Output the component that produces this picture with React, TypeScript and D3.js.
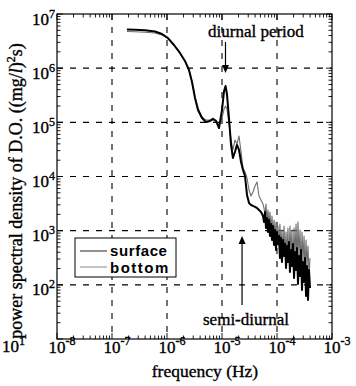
import React from "react";
import * as d3 from "d3";

// ---------- data ----------
const frequency = [
  1.87e-7, 2.62e-7, 3.98e-7, 6.05e-7, 8.11e-7, 1.04e-6, 1.34e-6, 1.72e-6, 2.12e-6, 2.51e-6,
  2.85e-6, 3.23e-6, 3.66e-6, 4.33e-6, 5.12e-6, 6.05e-6, 6.86e-6, 7.78e-6, 8.82e-6, 1.0e-5,
  1.09e-5, 1.16e-5, 1.23e-5, 1.34e-5, 1.46e-5, 1.58e-5, 1.72e-5, 1.87e-5, 2.04e-5, 2.22e-5,
  2.41e-5, 2.62e-5, 2.85e-5, 3.1e-5, 3.37e-5, 3.66e-5, 3.98e-5, 4.33e-5, 4.71e-5, 5.12e-5,
  5.56e-5,
  5.8e-5, 6.05e-5, 6.31e-5, 6.58e-5, 6.86e-5, 7.15e-5, 7.46e-5, 7.78e-5, 8.11e-5, 8.46e-5,
  8.82e-5, 9.2e-5, 9.59e-5, 1.0e-4, 1.04e-4, 1.09e-4, 1.13e-4, 1.18e-4, 1.23e-4, 1.29e-4,
  1.34e-4, 1.4e-4, 1.46e-4, 1.52e-4, 1.58e-4, 1.65e-4, 1.72e-4, 1.8e-4, 1.87e-4, 1.95e-4,
  2.04e-4, 2.12e-4, 2.22e-4, 2.31e-4, 2.41e-4, 2.51e-4, 2.62e-4, 2.73e-4, 2.85e-4, 2.97e-4,
  3.1e-4, 3.23e-4, 3.37e-4, 3.51e-4, 3.66e-4, 3.82e-4, 3.98e-4,
];

const surface = [
  5.18e6, 5.11e6, 5.0e6, 4.75e6, 4.27e6, 3.6e6, 2.68e6, 1.91e6, 1.36e6, 9.25e5,
  5.56e5, 2.81e5, 1.69e5, 1.2e5, 1.01e5, 1.06e5, 1.15e5, 1.06e5, 7.86e4, 1.69e5,
  3.79e5, 4.69e5, 3.34e5, 1.2e5, 3.82e4, 2.2e4, 2.84e4, 3.82e4, 3.09e4, 1.85e4,
  1.32e4, 1.02e4, 4.56e3, 3.24e3, 2.98e3, 2.86e3, 2.74e3, 2.62e3, 2.41e3, 2.21e3,
  1.87e3,
  1.45e3, 2.21e3, 1.12e3, 1.71e3, 9.45e2, 1.57e3, 7.98e2, 1.33e3, 6.73e2, 1.22e3,
  5.44e2, 1.03e3, 4.4e2, 9.45e2, 5.68e2, 7.98e2, 3.13e2, 7.33e2, 2.64e2, 6.73e2,
  3.41e2, 5.68e2, 2.05e2, 5.21e2, 2.64e2, 6.18e2, 1.73e2, 4.4e2, 2.23e2, 5.68e2,
  1.34e2, 4.04e2, 1.88e2, 4.79e2, 1.04e2, 3.41e2, 1.46e2, 4.4e2, 80.4, 2.64e2,
  1.13e2, 3.13e2, 62.2, 2.23e2, 52.5, 1.88e2, 87.5,
];

const bottom = [
  4.75e6, 4.69e6, 4.61e6, 4.46e6, 4.1e6, 3.53e6, 2.68e6, 1.91e6, 1.36e6, 9.25e5,
  5.56e5, 2.94e5, 1.84e5, 1.26e5, 1.1e5, 1.1e5, 1.2e5, 1.06e5, 8.56e4, 1.2e5,
  1.76e5, 2.0e5, 1.76e5, 9.31e4, 4.72e4, 3.09e4, 4.72e4, 3.98e4, 5.6e4, 2.84e4,
  1.44e4, 1.21e4, 9.39e3, 5.64e3, 4.37e3, 5.18e3, 6.68e3, 7.92e3, 4.37e3, 3.68e3,
  3.11e3,
  2.62e3, 1.95e3, 3.11e3, 1.57e3, 2.41e3, 1.27e3, 2.21e3, 1.03e3, 1.87e3, 8.69e2,
  1.57e3, 7.33e2, 1.45e3, 6.18e2, 1.22e3, 5.21e2, 1.33e3, 4.79e2, 1.03e3, 4.04e2,
  1.22e3, 3.41e2, 9.45e2, 3.13e2, 1.12e3, 2.64e2, 1.22e3, 3.71e2, 1.03e3, 2.23e2,
  1.12e3, 3.13e2, 1.33e3, 2.43e2, 1.45e3, 3.41e2, 1.03e3, 2.05e2, 9.45e2, 2.64e2,
  7.98e2, 1.73e2, 6.73e2, 2.23e2, 5.21e2, 1.46e2, 3.13e2,
];

const xTickExponents = [-8, -7, -6, -5, -4, -3];
const yTickExponents = [1, 2, 3, 4, 5, 6, 7];
const seriesNames = ["surface", "bottom"];
const annotationFreqs = [1 / 86400, 2 / 86400]; // diurnal, semi-diurnal
const annotationLabels = ["diurnal period", "semi-diurnal"];

// ---------- layout ----------
const W = 356;
const H = 386;
const L = 57, R = 332, T = 14, B = 339;
const serif = "'Liberation Serif', 'Times New Roman', serif";
const sans = "'Liberation Sans', Arial, sans-serif";
const heavy = { stroke: "#000", strokeWidth: 0.35 };

export default function App() {
  const x = d3.scaleLog().domain([1e-8, 1e-3]).range([L, R]);
  const y = d3.scaleLog().domain([1e1, 1e7]).range([B, T]);

  const line = d3
    .line<number>()
    .x((_, i) => x(frequency[i]))
    .y((d) => y(d));

  const xMinor = x.ticks();
  const yMinor = y.ticks();

  const isMajor = (v: number) => Math.abs(Math.log10(v) - Math.round(Math.log10(v))) < 1e-6;

  const xGrid = xTickExponents.slice(1, -1).map((e) => Math.pow(10, e));
  const yGrid = yTickExponents.slice(1, -1).map((e) => Math.pow(10, e));

  const dx = x(annotationFreqs[0]);
  const sx = x(annotationFreqs[1]);

  return (
    <svg
      width={W}
      height={H}
      style={{ position: "absolute", left: 0, top: 0, background: "#fff" }}
    >
      <rect x={0} y={0} width={W} height={H} fill="#fff" />

      {/* grid */}
      <g stroke="#000" strokeWidth={1.1} strokeDasharray="6,7">
        {xGrid.map((v) => (
          <line key={"gx" + v} x1={x(v)} x2={x(v)} y1={T} y2={B} />
        ))}
        {yGrid.map((v) => (
          <line key={"gy" + v} x1={L} x2={R} y1={y(v)} y2={y(v)} />
        ))}
      </g>

      {/* ticks on all four sides */}
      <g stroke="#000" strokeWidth={0.9}>
        {xMinor.map((v, i) => {
          const len = isMajor(v) ? 6 : 3.5;
          return (
            <g key={"xt" + i}>
              <line x1={x(v)} x2={x(v)} y1={B} y2={B - len} />
              <line x1={x(v)} x2={x(v)} y1={T} y2={T + len} />
            </g>
          );
        })}
        {yMinor.map((v, i) => {
          const len = isMajor(v) ? 6 : 3.5;
          return (
            <g key={"yt" + i}>
              <line x1={L} x2={L + len} y1={y(v)} y2={y(v)} />
              <line x1={R} x2={R - len} y1={y(v)} y2={y(v)} />
            </g>
          );
        })}
      </g>

      {/* series */}
      <path d={line(bottom) || ""} fill="none" stroke="#6e6e6e" strokeWidth={1.1} strokeLinejoin="round" />
      <path d={line(surface) || ""} fill="none" stroke="#000" strokeWidth={2} strokeLinejoin="round" />

      {/* frame */}
      <rect x={L} y={T} width={R - L} height={B - T} fill="none" stroke="#000" strokeWidth={1.2} />

      {/* y tick labels */}
      <g fontFamily={serif} fontSize={17} fill="#000" {...heavy}>
        {yTickExponents.map((e) =>
          e === 1 ? (
            <text key={"yl" + e} x={25} y={352} textAnchor="end">
              10<tspan dy={-7} fontSize={12}>{e}</tspan>
            </text>
          ) : (
            <text key={"yl" + e} x={55} y={y(Math.pow(10, e)) + 10.5} textAnchor="end">
              10<tspan dy={-7} fontSize={12}>{e}</tspan>
            </text>
          )
        )}
      </g>

      {/* x tick labels */}
      <g fontFamily={serif} fontSize={17} fill="#000" {...heavy}>
        {xTickExponents.map((e) => (
          <text key={"xl" + e} x={x(Math.pow(10, e)) - 8.5} y={353}>
            10<tspan dy={-8} fontSize={12}>{e}</tspan>
          </text>
        ))}
      </g>

      {/* axis titles */}
      <text x={205} y={377} textAnchor="middle" fontFamily={serif} fontSize={17.5} {...heavy}>
        frequency (Hz)
      </text>
      <text
        transform="translate(22,191) rotate(-90)"
        textAnchor="middle"
        fontFamily={serif}
        fontSize={18}
        {...heavy}
      >
        power spectral density of D.O. ((mg/<tspan fontStyle="italic">l</tspan>)
        <tspan dy={-7} fontSize={12}>2</tspan>
        <tspan dy={7}>s)</tspan>
      </text>

      {/* annotations */}
      <text x={208} y={37} fontFamily={serif} fontSize={17} {...heavy}>
        {annotationLabels[0]}
      </text>
      <line x1={dx} x2={dx} y1={42} y2={67} stroke="#000" strokeWidth={1.2} />
      <path d={`M${dx - 3.5},${65} L${dx + 3.5},${65} L${dx},${73} Z`} fill="#000" />

      <text x={203} y={325} fontFamily={serif} fontSize={17} {...heavy}>
        {annotationLabels[1]}
      </text>
      <line x1={sx} x2={sx} y1={305} y2={242} stroke="#000" strokeWidth={1.2} />
      <path d={`M${sx - 3.5},${244} L${sx + 3.5},${244} L${sx},${236} Z`} fill="#000" />

      {/* legend */}
      <rect x={75} y={238} width={101} height={39} fill="#fff" stroke="#000" strokeWidth={1} />
      <line x1={80} x2={107} y1={251} y2={251} stroke="#222" strokeWidth={1} />
      <line x1={80} x2={107} y1={267} y2={267} stroke="#888" strokeWidth={1} />
      <text x={110} y={256} fontFamily={sans} fontSize={15} fontWeight="bold" letterSpacing={0.6}>
        {seriesNames[0]}
      </text>
      <text x={110} y={273} fontFamily={sans} fontSize={15} fontWeight="bold" letterSpacing={1.5}>
        {seriesNames[1]}
      </text>
    </svg>
  );
}
